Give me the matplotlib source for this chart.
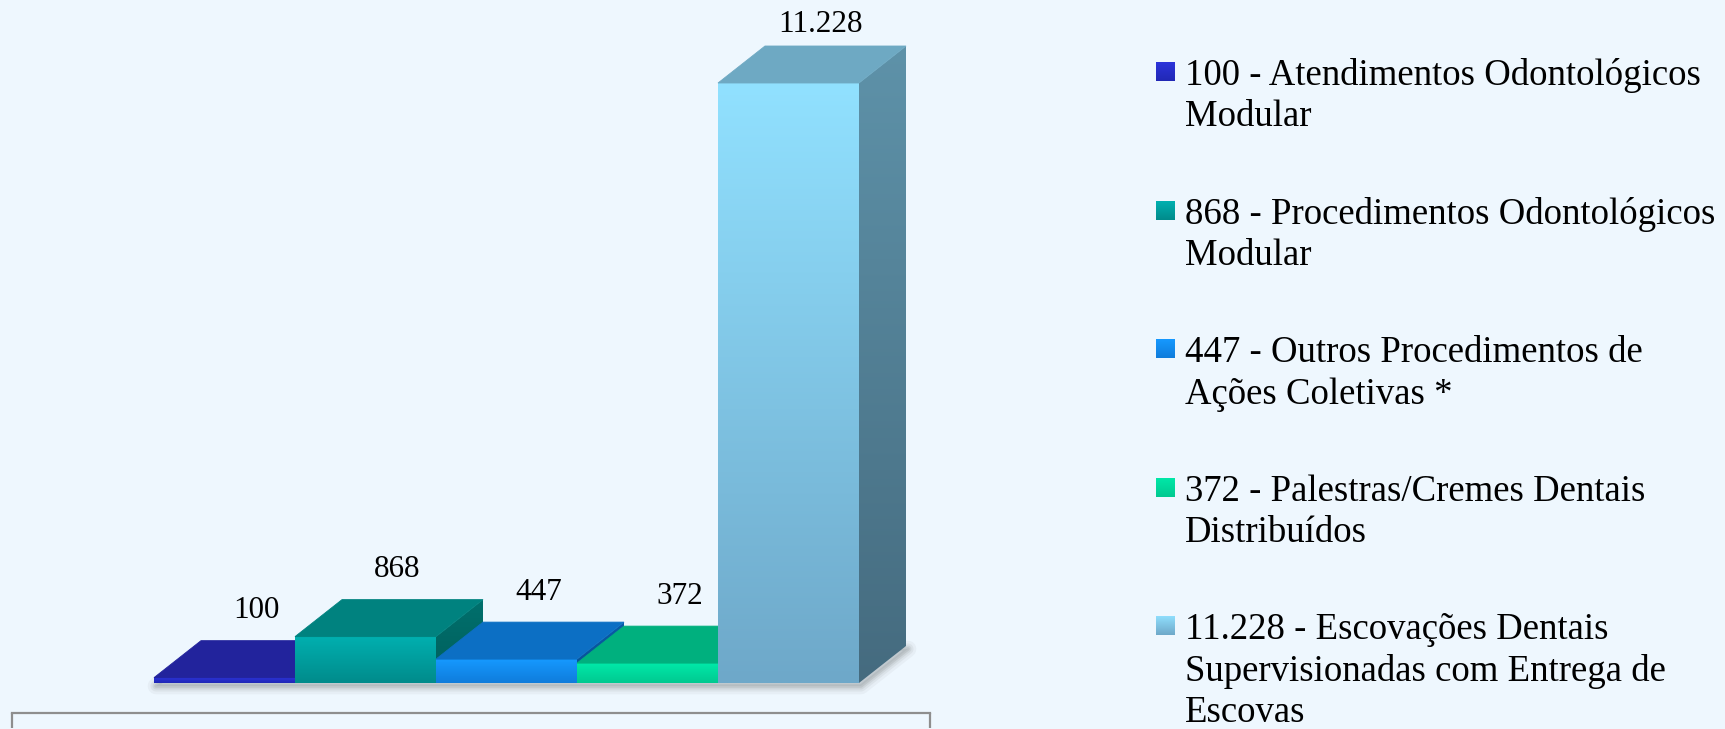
import matplotlib
matplotlib.use('Agg')
import matplotlib.pyplot as plt
import matplotlib.transforms as mtransforms
import numpy as np
from matplotlib.patches import Polygon
from matplotlib.colors import LinearSegmentedColormap

# ---------------- data ----------------
values = [100, 868, 447, 372, 11228]
value_labels = ['100', '868', '447', '372', '11.228']
legend_labels = [
    '100 - Atendimentos Odontológicos\nModular',
    '868 - Procedimentos Odontológicos\nModular',
    '447 - Outros Procedimentos de\nAções Coletivas *',
    '372 - Palestras/Cremes Dentais\nDistribuídos',
    '11.228 - Escovações Dentais\nSupervisionadas com Entrega de\nEscovas',
]

# ---------------- styles ----------------
front_top = ['#2C34DA', '#00B0B0', '#1699FF', '#00E9A9', '#91E1FF']
front_bot = ['#2128B5', '#008B8B', '#0F7CDB', '#00C990', '#6EA8C9']
top_col = ['#22239C', '#00827F', '#0C6FC4', '#00B07E', '#6EA9C3']
side_top = ['#1A1B80', '#00706D', '#0A5CA8', '#008F66', '#5E92A9']
side_bot = ['#16176E', '#005E5B', '#084E90', '#007A57', '#456B7F']

BG = '#EEF7FE'
W, H, DPI = 1725, 729, 100
FONT = 'Liberation Serif'
FS_LABEL = 22.4
FS_LEGEND = 26.5

fig = plt.figure(figsize=(W / DPI, H / DPI), dpi=DPI, facecolor=BG)

# layout (pixels)
ax_left_px, ax_right_px, ax_bottom_px = 12, 930, 16
first_left_px = 154          # figure x of the first bar's front-left edge
bar_w_px = 141               # bar width
base_px = 30                 # bars baseline above axis line
max_h_px = 600               # height of tallest bar front
depth_dx_px, depth_dy_px = 47, 37
label_gap_px = 30            # label centre above back-top edge
label_min_top_px = 24        # keep label centre at least this far from top

ax = fig.add_axes([ax_left_px / W, ax_bottom_px / H,
                   (ax_right_px - ax_left_px) / W, (H - ax_bottom_px) / H])
ax.set_facecolor('none')

ax_w_px = ax_right_px - ax_left_px
ax_h_px = H - ax_bottom_px
ky = max_h_px / max(values)                    # px per value unit
x0 = -0.5 - (first_left_px - ax_left_px) / bar_w_px
x1 = x0 + ax_w_px / bar_w_px
y0 = -base_px / ky
y1 = y0 + ax_h_px / ky
dx = depth_dx_px / bar_w_px
dy = depth_dy_px / ky

n = len(values)
grad = np.linspace(0, 1, 256).reshape(-1, 1)

# soft floor shadow
foot = [(-0.5, 0), (n - 0.5, 0), (n - 0.5 + dx, dy), (-0.5 + dx, dy)]
shift = mtransforms.offset_copy(ax.transData, fig=fig, x=2, y=-3, units='dots')
for lw, a in [(12, 0.05), (8, 0.07), (5, 0.09), (2.5, 0.12)]:
    ax.add_patch(Polygon(foot, closed=True, fc='none', ec='#555555',
                         lw=lw, alpha=a, transform=shift, zorder=2,
                         joinstyle='round'))
ax.add_patch(Polygon(foot, closed=True, fc='#9aa3aa', alpha=0.25,
                     transform=shift, zorder=2, lw=0))

for i, v in enumerate(values):
    l, r = i - 0.5, i + 0.5
    z = 10 + 3 * i
    # side face (gradient clipped to parallelogram)
    side_poly = Polygon([(r, 0), (r + dx, dy), (r + dx, v + dy), (r, v)],
                        closed=True, fc='none', ec='none', zorder=z)
    ax.add_patch(side_poly)
    cm_s = LinearSegmentedColormap.from_list('s%d' % i, [side_top[i], side_bot[i]])
    im = ax.imshow(grad, cmap=cm_s, extent=(r, r + dx, 0, v + dy),
                   origin='upper', aspect='auto', zorder=z, interpolation='bilinear')
    im.set_clip_path(side_poly)
    # front face
    cm_f = LinearSegmentedColormap.from_list('f%d' % i, [front_top[i], front_bot[i]])
    ax.imshow(grad, cmap=cm_f, extent=(l, r, 0, v), origin='upper',
              aspect='auto', zorder=z + 1, interpolation='bilinear')
    # top face
    ax.add_patch(Polygon([(l, v), (r, v), (r + dx, v + dy), (l + dx, v + dy)],
                         closed=True, fc=top_col[i], ec=top_col[i], lw=0.6,
                         zorder=z + 2))
    # value label (above the back edge of the top face, kept inside the figure)
    back_top_from_top = H - (ax_bottom_px + base_px + v * ky + depth_dy_px)
    gap = min(label_gap_px, back_top_from_top - label_min_top_px)
    ax.annotate(value_labels[i], xy=(i, v),
                xytext=(32 * 72 / DPI, (depth_dy_px + gap) * 72 / DPI),
                textcoords='offset points', ha='center', va='center',
                fontsize=FS_LABEL, family=FONT, color='black', zorder=40)

ax.set_xlim(x0, x1)
ax.set_ylim(y0, y1)
for s in ['top', 'left', 'right']:
    ax.spines[s].set_visible(False)
ax.spines['bottom'].set_color('#8E8E8E')
ax.spines['bottom'].set_linewidth(1.6)
ax.set_yticks([])
ax.set_xticks([x0, x1])
ax.set_xticklabels([])
ax.tick_params(axis='x', direction='out', length=11, width=1.6, color='#8E8E8E')

# ---------------- legend (manual) ----------------
sq_left_px, sq_size_px = 1156, 19
text_left_px = 1185
first_center_px, step_px = 71.5, 138.6
baseline_below_center_px = 13.5
line_step_px = 41.3
for k, lab in enumerate(legend_labels):
    cy = first_center_px + k * step_px
    lax = fig.add_axes([sq_left_px / W, (H - cy - sq_size_px / 2) / H,
                        sq_size_px / W, sq_size_px / H])
    lax.imshow(grad, cmap=LinearSegmentedColormap.from_list('l%d' % k, [front_top[k], front_bot[k]]),
               aspect='auto', origin='upper', extent=(0, 1, 0, 1))
    lax.set_axis_off()
    for j, line in enumerate(lab.split('\n')):
        yb = cy + baseline_below_center_px + j * line_step_px
        fig.text(text_left_px / W, (H - yb) / H, line, ha='left', va='baseline',
                 fontsize=FS_LEGEND, family=FONT, color='black')

fig.savefig('out.png', dpi=DPI, facecolor=BG)
